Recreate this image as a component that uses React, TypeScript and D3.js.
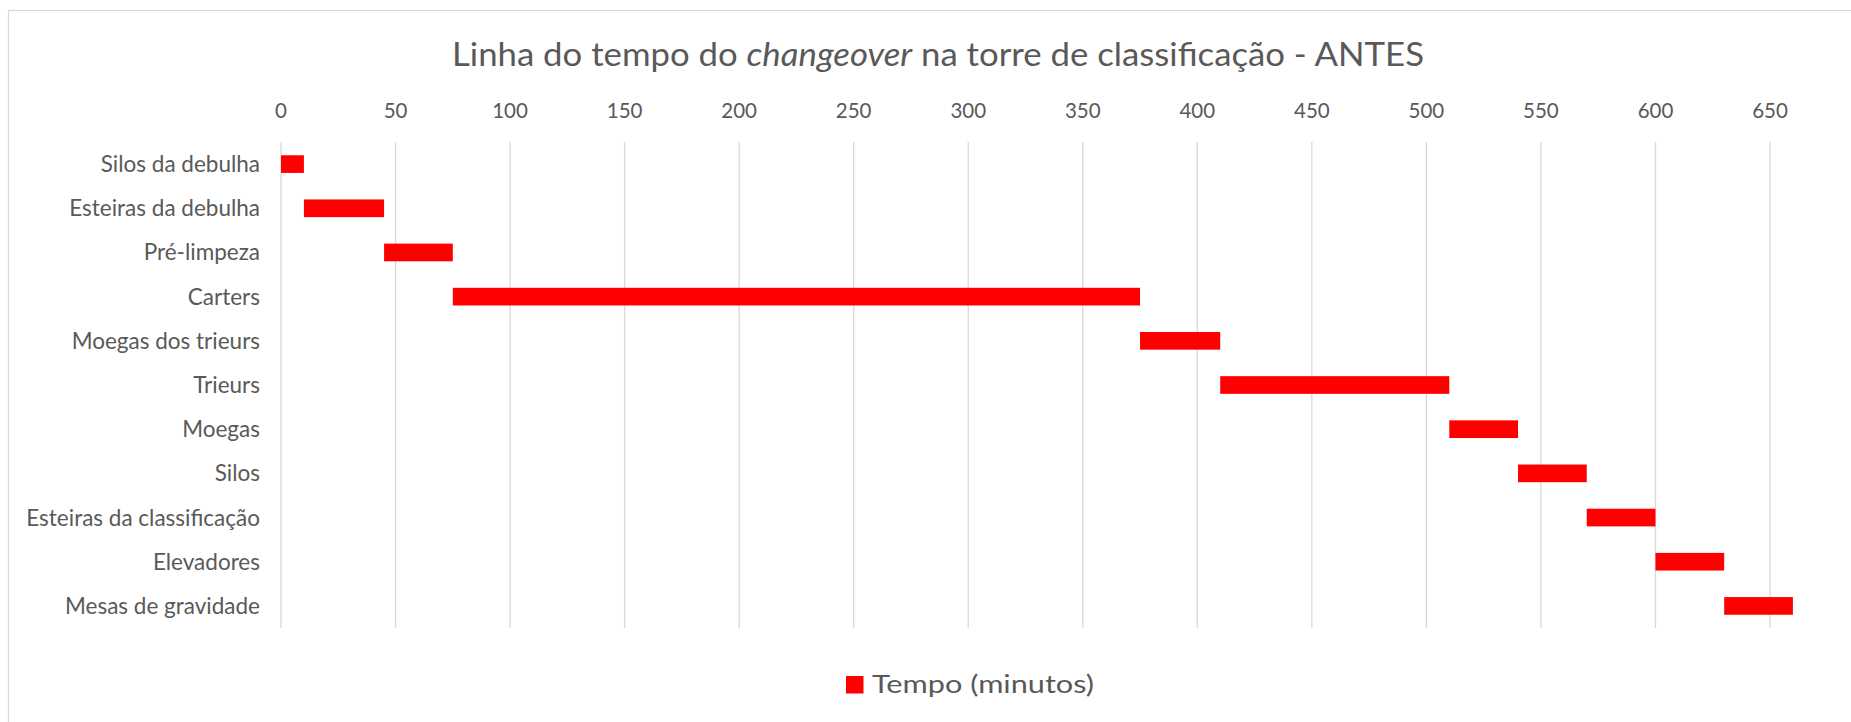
import React from "react";
import * as d3 from "d3";

// etapas do changeover (eixo de categorias)
const etapas = [
  "Silos da debulha",
  "Esteiras da debulha",
  "Pré-limpeza",
  "Carters",
  "Moegas dos trieurs",
  "Trieurs",
  "Moegas",
  "Silos ",
  "Esteiras da classificação",
  "Elevadores",
  "Mesas de gravidade",
];
// inicio de cada etapa (serie invisivel do gantt)
const inicio = [0, 10, 45, 75, 375, 410, 510, 540, 570, 600, 630];
// duracao em minutos (serie visivel)
const tempo = [10, 35, 30, 300, 35, 100, 30, 30, 30, 30, 30];
const tickValues = [0, 50, 100, 150, 200, 250, 300, 350, 400, 450, 500, 550, 600, 650];

const W = 1851;
const H = 722;
const FONT = "Lato, 'Open Sans', sans-serif";
const TXT = "#595959";

const App = () => {
  const x = d3.scaleLinear().domain([0, 650]).range([281, 1770]);
  const y = d3
    .scaleBand()
    .domain(etapas)
    .range([142, 628])
    .paddingInner(0.6)
    .paddingOuter(0.3);

  return (
    <svg
      width={W}
      height={H}
      style={{ position: "absolute", left: 0, top: 0, background: "#fff" }}
      fontFamily={FONT}
    >
      <rect x={0} y={0} width={W} height={H} fill="#fff" />
      {/* moldura do grafico */}
      <rect x={8.5} y={10.5} width={W + 20} height={H + 20} fill="none" stroke="#d9d9d9" strokeWidth={1.2} />

      {/* titulo */}
      <text x={938} y={66} textAnchor="middle" fontSize={33} fill={TXT} textLength={972} lengthAdjust="spacingAndGlyphs">
        Linha do tempo do <tspan fontStyle="italic">changeover</tspan> na torre de classificação - ANTES
      </text>

      {/* grade vertical e rotulos do eixo x */}
      {tickValues.map((t) => (
        <g key={t}>
          <line x1={x(t)} x2={x(t)} y1={142} y2={628} stroke="#d9d9d9" strokeWidth={1.3} />
          <text x={x(t)} y={118} textAnchor="middle" fontSize={20.5} fill={TXT}>
            {t}
          </text>
        </g>
      ))}

      {/* rotulos das categorias */}
      {etapas.map((e) => (
        <text key={e} x={260} y={(y(e) as number) + y.bandwidth() / 2 + 8} textAnchor="end" fontSize={22.5} fill={TXT}>
          {e}
        </text>
      ))}

      {/* barras */}
      {etapas.map((e, i) => (
        <rect
          key={e}
          x={x(inicio[i])}
          y={y(e)}
          width={x(inicio[i] + tempo[i]) - x(inicio[i])}
          height={y.bandwidth()}
          fill="#ff0000"
        />
      ))}

      {/* legenda */}
      <rect x={846} y={676} width={17.5} height={17.5} fill="#ff0000" />
      <text x={872} y={693} fontSize={25} fill={TXT} textLength={222} lengthAdjust="spacingAndGlyphs">
        Tempo (minutos)
      </text>
    </svg>
  );
};

export default App;
